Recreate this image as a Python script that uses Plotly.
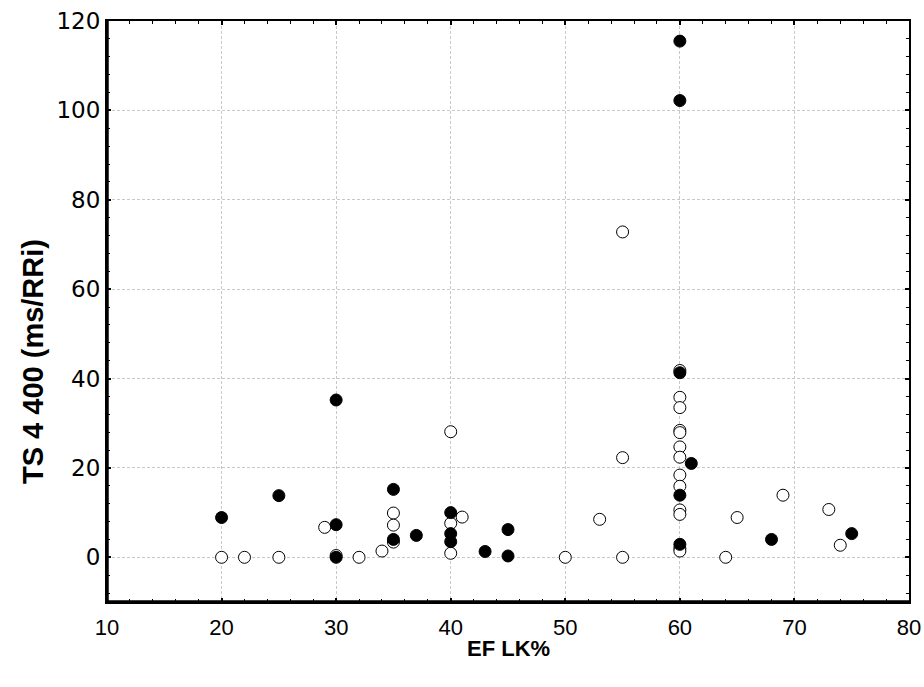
import plotly.graph_objects as go

# Open circles (white)
open_x = [20, 22, 25, 29, 30, 32, 34, 35, 35, 35, 40, 40, 40, 41, 50, 53, 55, 55, 55,
          60, 60, 60, 60, 60, 60, 60, 60, 60, 60, 60, 60, 60,
          64, 65, 69, 73, 74]
open_y = [0, 0, 0, 6.7, 0.4, 0, 1.4, 9.9, 7.2, 3.4, 28.1, 7.6, 0.9, 9.0, 0, 8.5, 72.8, 22.3, 0,
          41.8, 35.8, 33.5, 28.4, 27.9, 24.7, 22.4, 18.4, 15.9, 10.6, 9.6, 2.0, 1.4,
          0, 8.9, 13.9, 10.7, 2.7]

# Filled circles (black)
filled_x = [20, 25, 30, 30, 30, 35, 35, 37, 40, 40, 40, 43, 45, 45,
            60, 60, 60, 60, 60, 61, 68, 75]
filled_y = [8.9, 13.8, 35.2, 7.3, 0, 15.2, 4.0, 4.9, 10.0, 5.3, 3.5, 1.3, 6.2, 0.3,
            115.5, 102.2, 41.3, 13.9, 2.9, 21.0, 4.0, 5.3]

x_title = "EF LK%"
y_title = "TS 4 400 (ms/RRi)"

fig = go.Figure()
fig.add_trace(go.Scatter(
    x=open_x, y=open_y, mode="markers",
    marker=dict(size=12, color="white", line=dict(color="black", width=1)),
    showlegend=False))
fig.add_trace(go.Scatter(
    x=filled_x, y=filled_y, mode="markers",
    marker=dict(size=12, color="black", line=dict(color="black", width=1)),
    showlegend=False))

grid_col = "#c8c8c8"
plot_top, plot_bottom = 21, 602
plot_h = plot_bottom - plot_top

fig.update_layout(
    width=924, height=687,
    margin=dict(l=107, r=15, t=plot_top, b=687 - plot_bottom, autoexpand=False),
    paper_bgcolor="white", plot_bgcolor="white",
    font=dict(family="Liberation Sans, Arial, sans-serif", size=17, color="black"),
    xaxis=dict(
        range=[10, 80], dtick=10, tick0=10,
        showgrid=True, gridcolor=grid_col, griddash="3px,2px", gridwidth=1,
        zeroline=False, automargin=False,
        showline=True, linecolor="black", linewidth=2, mirror="allticks",
        ticks="inside", ticklen=4, tickcolor="black", tickwidth=2,
        minor=dict(dtick=2, ticks="inside", ticklen=3, tickcolor="black", tickwidth=1, showgrid=False),
        tickfont=dict(size=22, family="Liberation Sans, Arial, sans-serif"),
        ticklabelstandoff=5,
    ),
    yaxis=dict(
        range=[-10, 120], dtick=20, tick0=0,
        showgrid=True, gridcolor=grid_col, griddash="3px,2px", gridwidth=1,
        zeroline=False, automargin=False,
        showline=True, linecolor="black", linewidth=2, mirror="allticks",
        ticks="inside", ticklen=4, tickcolor="black", tickwidth=2,
        minor=dict(dtick=4, ticks="inside", ticklen=3, tickcolor="black", tickwidth=1, showgrid=False),
        tickfont=dict(size=23, family="DejaVu Sans, sans-serif"),
    ),
    annotations=[
        dict(text="<b>" + x_title + "</b>", xref="paper", yref="paper",
             x=0.5, y=(plot_bottom - 648) / plot_h, xanchor="center", yanchor="middle",
             showarrow=False, font=dict(size=22, family="Liberation Sans, Arial, sans-serif")),
        dict(text="<b>" + y_title + "</b>", xref="paper", yref="paper",
             x=(33 - 107) / 802, y=(plot_bottom - 362) / plot_h, xanchor="center", yanchor="middle",
             textangle=-90, showarrow=False,
             font=dict(size=29, family="Liberation Sans, Arial, sans-serif")),
    ],
    shapes=[
        dict(type="line", xref="paper", yref="paper", x0=0, x1=0, y0=0, y1=1,
             line=dict(color="black", width=3.5)),
        dict(type="line", xref="paper", yref="paper", x0=0, x1=1, y0=0, y1=0,
             line=dict(color="black", width=3.5)),
    ],
)

fig.write_html("out.html")
